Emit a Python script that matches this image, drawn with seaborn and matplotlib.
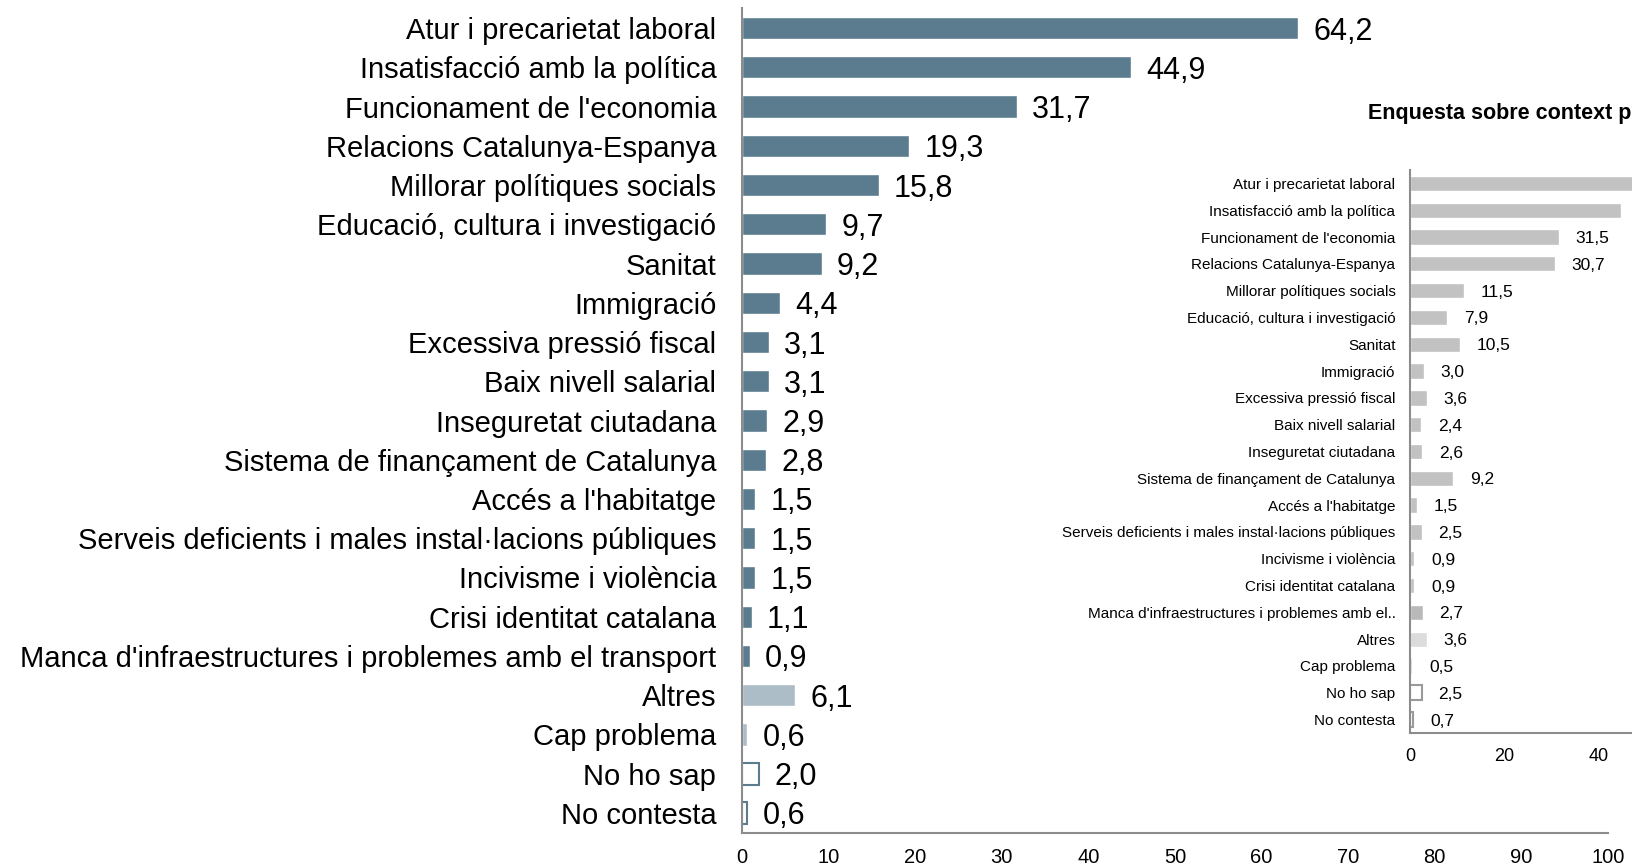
import matplotlib
matplotlib.use("Agg")
import matplotlib.pyplot as plt
import seaborn as sns
from matplotlib.ticker import FixedLocator

# --- Data ---
categories = [
    "Atur i precarietat laboral",
    "Insatisfacció amb la política",
    "Funcionament de l'economia",
    "Relacions Catalunya-Espanya",
    "Millorar polítiques socials",
    "Educació, cultura i investigació",
    "Sanitat",
    "Immigració",
    "Excessiva pressió fiscal",
    "Baix nivell salarial",
    "Inseguretat ciutadana",
    "Sistema de finançament de Catalunya",
    "Accés a l'habitatge",
    "Serveis deficients i males instal·lacions públiques",
    "Incivisme i violència",
    "Crisi identitat catalana",
    "Manca d'infraestructures i problemes amb el transport",
    "Altres",
    "Cap problema",
    "No ho sap",
    "No contesta",
]
main_values = [64.2, 44.9, 31.7, 19.3, 15.8, 9.7, 9.2, 4.4, 3.1, 3.1, 2.9, 2.8,
               1.5, 1.5, 1.5, 1.1, 0.9, 6.1, 0.6, 2.0, 0.6]

inset_categories = categories[:16] + ["Manca d'infraestructures i problemes amb el.."] + categories[17:]
# first value is cut off by the image edge in the original, estimated
inset_values = [52.3, 44.6, 31.5, 30.7, 11.5, 7.9, 10.5, 3.0, 3.6, 2.4, 2.6, 9.2,
                1.5, 2.5, 0.9, 0.9, 2.7, 3.6, 0.5, 2.5, 0.7]
inset_title = "Enquesta sobre context polític"

MAIN_C = "#5b7c8f"
MAIN_LIGHT = "#adbdc8"
GREY = "#c2c2c2"
AXIS_C = "#8c8c8c"

main_colors = [MAIN_C] * 17 + [MAIN_LIGHT, MAIN_LIGHT, "white", "white"]
inset_colors = [GREY] * 16 + ["#b9b9b9", "#dcdcdc", "#d0d0d0", "white", "white"]


def fmt(v):
    return f"{v:.1f}".replace(".", ",")


def draw_panel(ax, cats, vals, colors, edge, label_fs, value_fs, tick_fs,
               label_pad, value_pad, xticks):
    n = len(cats)
    sns.barplot(x=vals, y=cats, hue=cats, palette=colors, legend=False,
                orient="h", width=0.57, ax=ax, saturation=1)
    for i, c in enumerate(ax.containers):
        for p in c:
            if colors[i] == "white":
                p.set_edgecolor(edge)
                p.set_linewidth(1.5)
        txts = ax.bar_label(c, labels=[fmt(p.get_width()) for p in c],
                            padding=value_pad, fontsize=value_fs, color="black")
        for t in txts:
            t.set_va("center_baseline")
    ax.set_ylim(n - 0.5, -0.5)
    ax.set_xlim(0, 100)
    ax.set_xticks(xticks)
    ax.set_yticks(range(n))
    ax.set_yticklabels(cats, fontsize=label_fs)
    ax.yaxis.set_minor_locator(FixedLocator([i - 0.5 for i in range(n + 1)]))
    ax.tick_params(axis="y", which="major", length=0, pad=label_pad, labelcolor="black")
    ax.tick_params(axis="y", which="minor", length=8, width=1.5, color=AXIS_C)
    ax.tick_params(axis="x", length=5, width=1.5, color=AXIS_C, labelsize=tick_fs,
                   pad=6, labelcolor="black")
    ax.set_xlabel("")
    ax.set_ylabel("")
    for s in ["top", "right"]:
        ax.spines[s].set_visible(False)
    for s in ["left", "bottom"]:
        ax.spines[s].set_color(AXIS_C)
        ax.spines[s].set_linewidth(1.5)
    ax.patch.set_alpha(0)


sns.set_style("white")
plt.rcParams["font.family"] = ["Liberation Sans", "DejaVu Sans"]

fig = plt.figure(figsize=(16.32, 8.66), dpi=100)
ax = fig.add_axes([742 / 1632, 1 - 832.6 / 866, 866 / 1632, 824.2 / 866])
ax_in = fig.add_axes([1410 / 1632, 1 - 733 / 866, 472 / 1632, 563 / 866])

draw_panel(ax, categories, main_values, main_colors, MAIN_C,
           label_fs=21, value_fs=22, tick_fs=14.5, label_pad=18.5, value_pad=11,
           xticks=range(0, 101, 10))
draw_panel(ax_in, inset_categories, inset_values, inset_colors, "#9a9a9a",
           label_fs=11, value_fs=12.5, tick_fs=13, label_pad=10.5, value_pad=12,
           xticks=range(0, 101, 20))

fig.text(1368 / 1632, 1 - 113 / 866, inset_title, ha="left", va="center",
         fontsize=15.5, fontweight="bold", color="black")

fig.savefig("out.png", dpi=100)
